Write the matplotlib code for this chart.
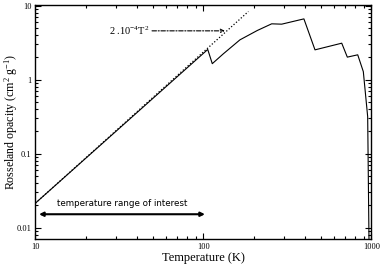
import matplotlib
matplotlib.use('Agg')
import matplotlib.pyplot as plt
from matplotlib.ticker import LogLocator, FixedLocator, FixedFormatter, NullFormatter

# Data
T_opacity = [10, 106, 112.8, 131, 164.8, 209, 254.6, 292, 396, 461, 665, 718, 828, 894, 949, 975]
kappa = [0.0215, 2.55, 1.64, 2.22, 3.44, 4.6, 5.66, 5.6, 6.6, 2.52, 3.1, 2.01, 2.16, 1.28, 0.316, 0.001]
T_fit = [10, 185]
kappa_fit = [0.0215, 8.3]
range_T = [10.5, 102]
range_kappa = 0.0152
fit_label = r'2 .10$^{-4}$T$^{2}$'
range_label = 'temperature range of interest'
x_ticks = [10, 100, 1000]
x_ticklabels = ['10', '100', '1000']
y_ticks = [0.01, 0.1, 1, 10]
y_ticklabels = ['0.01', '0.1', '1', '10']

plt.rcParams['font.family'] = ['Liberation Serif', 'DejaVu Serif']
plt.rcParams['mathtext.fontset'] = 'custom'
plt.rcParams['mathtext.rm'] = 'Liberation Serif'
plt.rcParams['mathtext.it'] = 'Liberation Serif:italic'

fig = plt.figure(figsize=(3.82, 2.65), dpi=100)
ax = fig.add_axes([0.0929, 0.1, 0.8796, 0.8823])

ax.plot(T_fit, kappa_fit, color='black', lw=0.9, linestyle=(0, (1, 1.6)))
ax.plot(T_opacity, kappa, color='black', lw=0.8)

ax.set_xscale('log')
ax.set_yscale('log')
ax.set_xlim(10, 1000)
ax.set_ylim(0.00715, 10.26)

ax.xaxis.set_major_locator(FixedLocator(x_ticks))
ax.xaxis.set_major_formatter(FixedFormatter(x_ticklabels))
ax.yaxis.set_major_locator(FixedLocator(y_ticks))
ax.yaxis.set_major_formatter(FixedFormatter(y_ticklabels))
ax.xaxis.set_minor_locator(LogLocator(base=10, subs=range(2, 10)))
ax.yaxis.set_minor_locator(LogLocator(base=10, subs=range(2, 10)))
ax.xaxis.set_minor_formatter(NullFormatter())
ax.yaxis.set_minor_formatter(NullFormatter())

ax.tick_params(which='both', direction='in', top=True, right=True, labelsize=6, pad=3, width=0.8)
ax.tick_params(which='major', length=4)
ax.tick_params(which='minor', length=2.2)
for s in ax.spines.values():
    s.set_linewidth(1.0)

ax.set_xlabel('Temperature (K)', fontsize=9, labelpad=1)
ax.set_ylabel(r'Rosseland opacity (cm$^{2}$ g$^{-1}$)', fontsize=8.6, va='center')
ax.yaxis.set_label_coords(-0.072, 0.5)

# fit annotation
ax.annotate('', xy=(134, 4.55), xytext=(49.4, 4.55),
            arrowprops=dict(arrowstyle='->', color='black', lw=0.8,
                            linestyle=(0, (4, 1.5, 1, 1.5)), shrinkA=0, shrinkB=0,
                            mutation_scale=6))
ax.text(48, 4.55, fit_label, ha='right', va='center', fontsize=7.5)

# temperature range arrow
ax.annotate('', xy=(range_T[0], range_kappa), xytext=(range_T[1], range_kappa),
            arrowprops=dict(arrowstyle='<|-|>', color='black', lw=1.5,
                            shrinkA=0, shrinkB=0, mutation_scale=6))
ax.text(13.4, 0.0214, range_label, ha='left', va='center', fontsize=6.3,
        family='DejaVu Sans')

fig.savefig('out.png', dpi=100)
